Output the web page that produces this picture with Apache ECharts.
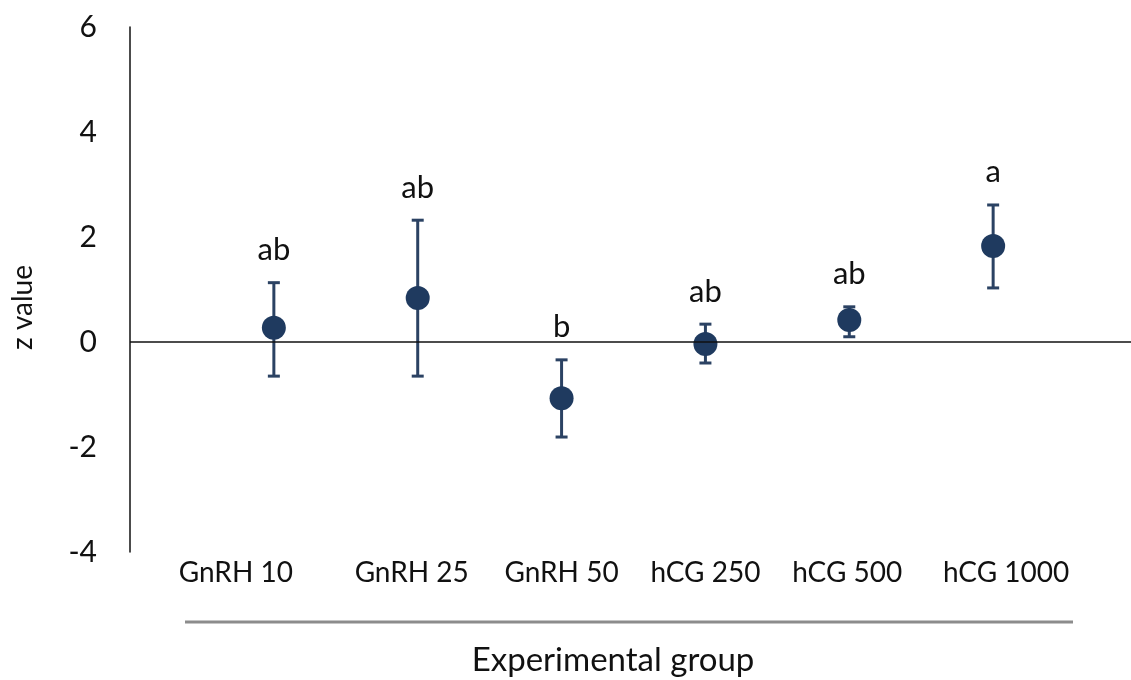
<!DOCTYPE html>
<html>
<head>
<meta charset="utf-8">
<script src="https://cdn.jsdelivr.net/npm/echarts@6/dist/echarts.min.js"></script>
<style>
html,body{margin:0;padding:0;background:#fff;}
#chart{width:1131px;height:680px;}
</style>
</head>
<body>
<div id="chart"></div>
<script>
var categories = ['GnRH 10', 'GnRH 25', 'GnRH 50', 'hCG 250', 'hCG 500', 'hCG 1000'];
var means = [0.27, 0.84, -1.07, -0.04, 0.42, 1.83];
var upper = [1.13, 2.32, -0.34, 0.34, 0.67, 2.61];
var lower = [-0.65, -0.65, -1.81, -0.40, 0.10, 1.03];
var letters = ['ab', 'ab', 'b', 'ab', 'ab', 'a'];
var yTicks = [-4, -2, 0, 2, 4, 6];

var FONT = 'Lato';
var markerColor = '#1f3a5f';
var barColor = '#2b4263';

var pointData = categories.map(function (c, i) { return [i + 1, means[i]]; });
var errData = categories.map(function (c, i) { return [i + 1, lower[i], upper[i], letters[i]]; });

// label nudges (styling only): horizontal padding per category label
var labelRich = {
  l1: { padding: [0, 76, 0, 0] },
  l2: { padding: [0, 12, 0, 0] },
  l3: { padding: [0, 0, 0, 0] },
  l4: { padding: [0, 0, 0, 0] },
  l5: { padding: [0, 4, 0, 0] },
  l6: { padding: [0, 0, 0, 26] }
};

var chart = echarts.init(document.getElementById('chart'));
chart.setOption({
  animation: false,
  backgroundColor: '#fff',
  grid: { left: 130, right: -6, top: 27, bottom: 128, outerBoundsMode: 'none', containLabel: false },
  xAxis: {
    type: 'value', min: 0, max: 7, interval: 1,
    axisLine: { show: false, onZero: false },
    axisTick: { show: false },
    splitLine: { show: false },
    axisLabel: {
      margin: 7, fontSize: 28, fontFamily: FONT, color: '#111',
      rich: labelRich,
      formatter: function (v) {
        var c = categories[v - 1];
        return c ? '{l' + v + '|' + c + '}' : '';
      }
    }
  },
  yAxis: {
    type: 'value', min: yTicks[0], max: yTicks[yTicks.length - 1], interval: 2,
    axisLine: { show: true, lineStyle: { color: '#111', width: 1.5 } },
    axisTick: { show: false },
    splitLine: { show: false },
    axisLabel: { margin: 33, fontSize: 30, fontFamily: FONT, color: '#111' },
    name: 'z value', nameLocation: 'middle', nameGap: 93, nameRotate: 90,
    nameTextStyle: { fontSize: 28, fontFamily: FONT, color: '#111', padding: [0, 36, 0, 0] }
  },
  graphic: [
    { type: 'line', shape: { x1: 185, y1: 622, x2: 1073, y2: 622 }, style: { stroke: '#8c8c8c', lineWidth: 3 } },
    { type: 'text', x: 613, y: 660, style: { text: 'Experimental group', fontSize: 33, fontFamily: FONT, fill: '#111', textAlign: 'center', textVerticalAlign: 'middle' } }
  ],
  series: [
    {
      type: 'custom',
      data: errData,
      z: 2,
      renderItem: function (params, api) {
        var x = api.value(0);
        var lo = api.coord([x, api.value(1)]);
        var hi = api.coord([x, api.value(2)]);
        var cap = 6;
        var st = { stroke: barColor, lineWidth: 3 };
        return {
          type: 'group',
          children: [
            { type: 'line', shape: { x1: lo[0], y1: lo[1], x2: hi[0], y2: hi[1] }, style: st },
            { type: 'line', shape: { x1: hi[0] - cap, y1: hi[1], x2: hi[0] + cap, y2: hi[1] }, style: st },
            { type: 'line', shape: { x1: lo[0] - cap, y1: lo[1], x2: lo[0] + cap, y2: lo[1] }, style: st },
            { type: 'text', x: hi[0], y: hi[1] - 17, style: { text: api.value(3), fontSize: 31, fontFamily: FONT, fill: '#111', textAlign: 'center', textVerticalAlign: 'bottom' } }
          ]
        };
      },
      encode: { x: 0, y: [1, 2] }
    },
    {
      type: 'scatter',
      data: pointData,
      symbol: 'circle',
      symbolSize: 24,
      z: 3,
      itemStyle: { color: markerColor, opacity: 1 },
      markLine: {
        silent: true, symbol: 'none', label: { show: false },
        lineStyle: { color: '#111', width: 1.5, type: 'solid' },
        data: [{ yAxis: 0 }]
      }
    }
  ]
});
</script>
</body>
</html>
